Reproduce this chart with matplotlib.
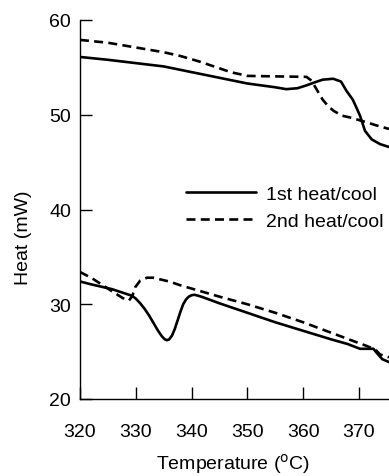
import matplotlib
matplotlib.use("Agg")
import matplotlib.pyplot as plt

plt.rcParams['font.family'] = ['Liberation Sans', 'DejaVu Sans']

# Upper pair of traces
x_up1 = [320, 325, 330, 335, 340, 345, 350, 355, 357, 359, 360.6, 362, 363.5, 365.4,
         366.8, 367.8, 368.9, 369.6, 370.2, 371.1, 372.3, 373.8, 375.4]
y_up1 = [56.1, 55.8, 55.45, 55.1, 54.5, 53.9, 53.3, 52.9, 52.7, 52.8, 53.1, 53.4, 53.7, 53.8,
         53.5, 52.5, 51.6, 50.7, 49.9, 48.3, 47.4, 46.9, 46.6]

x_up2 = [320, 325, 330, 335, 338, 341.5, 344, 347, 350, 355, 360.6, 361.5, 362.5, 363.5,
         364.5, 365.5, 367, 368.5, 371.4, 373, 375.4]
y_up2 = [57.9, 57.6, 57.1, 56.6, 56.2, 55.6, 55.1, 54.5, 54.1, 54.05, 54.0, 53.6, 52.6, 51.6,
         50.9, 50.4, 49.9, 49.7, 49.2, 48.9, 48.5]

# Lower pair of traces
x_lo1 = [320, 322, 325.7, 329.3, 330.0, 330.8, 331.6, 332.4, 333.2, 334.0, 334.7, 335.2,
         335.6, 336.0, 336.5, 337.0, 337.5, 338.0, 338.5, 339.0, 339.5, 340.0, 340.5, 341.2,
         342, 345, 350, 355, 360, 365, 368, 370.2, 371.5, 372.6, 373.3, 374.2, 375.4]
y_lo1 = [32.4, 32.1, 31.6, 30.9, 30.6, 30.1, 29.5, 28.8, 28.0, 27.2, 26.6, 26.3,
         26.2, 26.3, 26.7, 27.4, 28.3, 29.2, 30.0, 30.5, 30.8, 30.95, 31.0, 30.9,
         30.75, 30.1, 29.1, 28.1, 27.2, 26.3, 25.8, 25.3, 25.3, 25.3, 24.8, 24.2, 23.9]

x_lo2 = [320, 322, 325.4, 327, 328.1, 328.8, 329.4, 329.9, 330.8, 332, 333.1, 336, 338,
         341.5, 345, 350, 355, 360, 365, 370, 371.4, 373, 373.8, 375.4]
y_lo2 = [33.4, 32.8, 31.5, 30.9, 30.5, 30.4, 30.9, 31.8, 32.5, 32.8, 32.8, 32.4, 32.0,
         31.4, 30.8, 30.0, 29.1, 28.1, 27.0, 25.9, 25.6, 25.2, 24.7, 24.4]

x_ticks = [320, 330, 340, 350, 360, 370]
y_ticks = [20, 30, 40, 50, 60]
labels = ['1st heat/cool', '2nd heat/cool']

W, H = 389, 477
fig = plt.figure(figsize=(W / 100, H / 100), dpi=100)
ax = fig.add_axes([80 / W, (H - 400) / H, (W - 80) / W, (400 - 21) / H])

lw = 1.9
dash = (0, (3.4, 2.0))
l1, = ax.plot(x_up1, y_up1, color='black', lw=lw, solid_capstyle='round', solid_joinstyle='round')
l2, = ax.plot(x_up2, y_up2, color='black', lw=lw, linestyle=dash)
ax.plot(x_lo1, y_lo1, color='black', lw=lw, solid_capstyle='round', solid_joinstyle='round')
ax.plot(x_lo2, y_lo2, color='black', lw=lw, linestyle=dash)

ax.set_xlim(320, 375.4)
ax.set_ylim(20, 60)
ax.set_xticks(x_ticks)
ax.set_yticks(y_ticks)
for s in ['top', 'right']:
    ax.spines[s].set_visible(False)
for s in ['left', 'bottom']:
    ax.spines[s].set_linewidth(1.0)
ax.tick_params(direction='in', length=8.6, width=1.0, labelsize=14, colors='black')
ax.tick_params(axis='x', pad=17)
ax.tick_params(axis='y', pad=6.5)

fig.text(24 / W, 1 - 238 / H, 'Heat (mW)', rotation=90, ha='center', va='center', fontsize=14)
fig.text(233 / W, 1 - 464 / H, r'Temperature ($^{\mathrm{o}}$C)', ha='center', va='center', fontsize=14)

leg = ax.legend([l1, l2], labels, loc='upper left', bbox_to_anchor=(186 / W, 1 - 186 / H),
                bbox_transform=fig.transFigure, frameon=False, fontsize=14,
                handlelength=3.6, handletextpad=0.5, labelspacing=0.5,
                borderpad=0, borderaxespad=0)

fig.savefig('out.png', dpi=100)
